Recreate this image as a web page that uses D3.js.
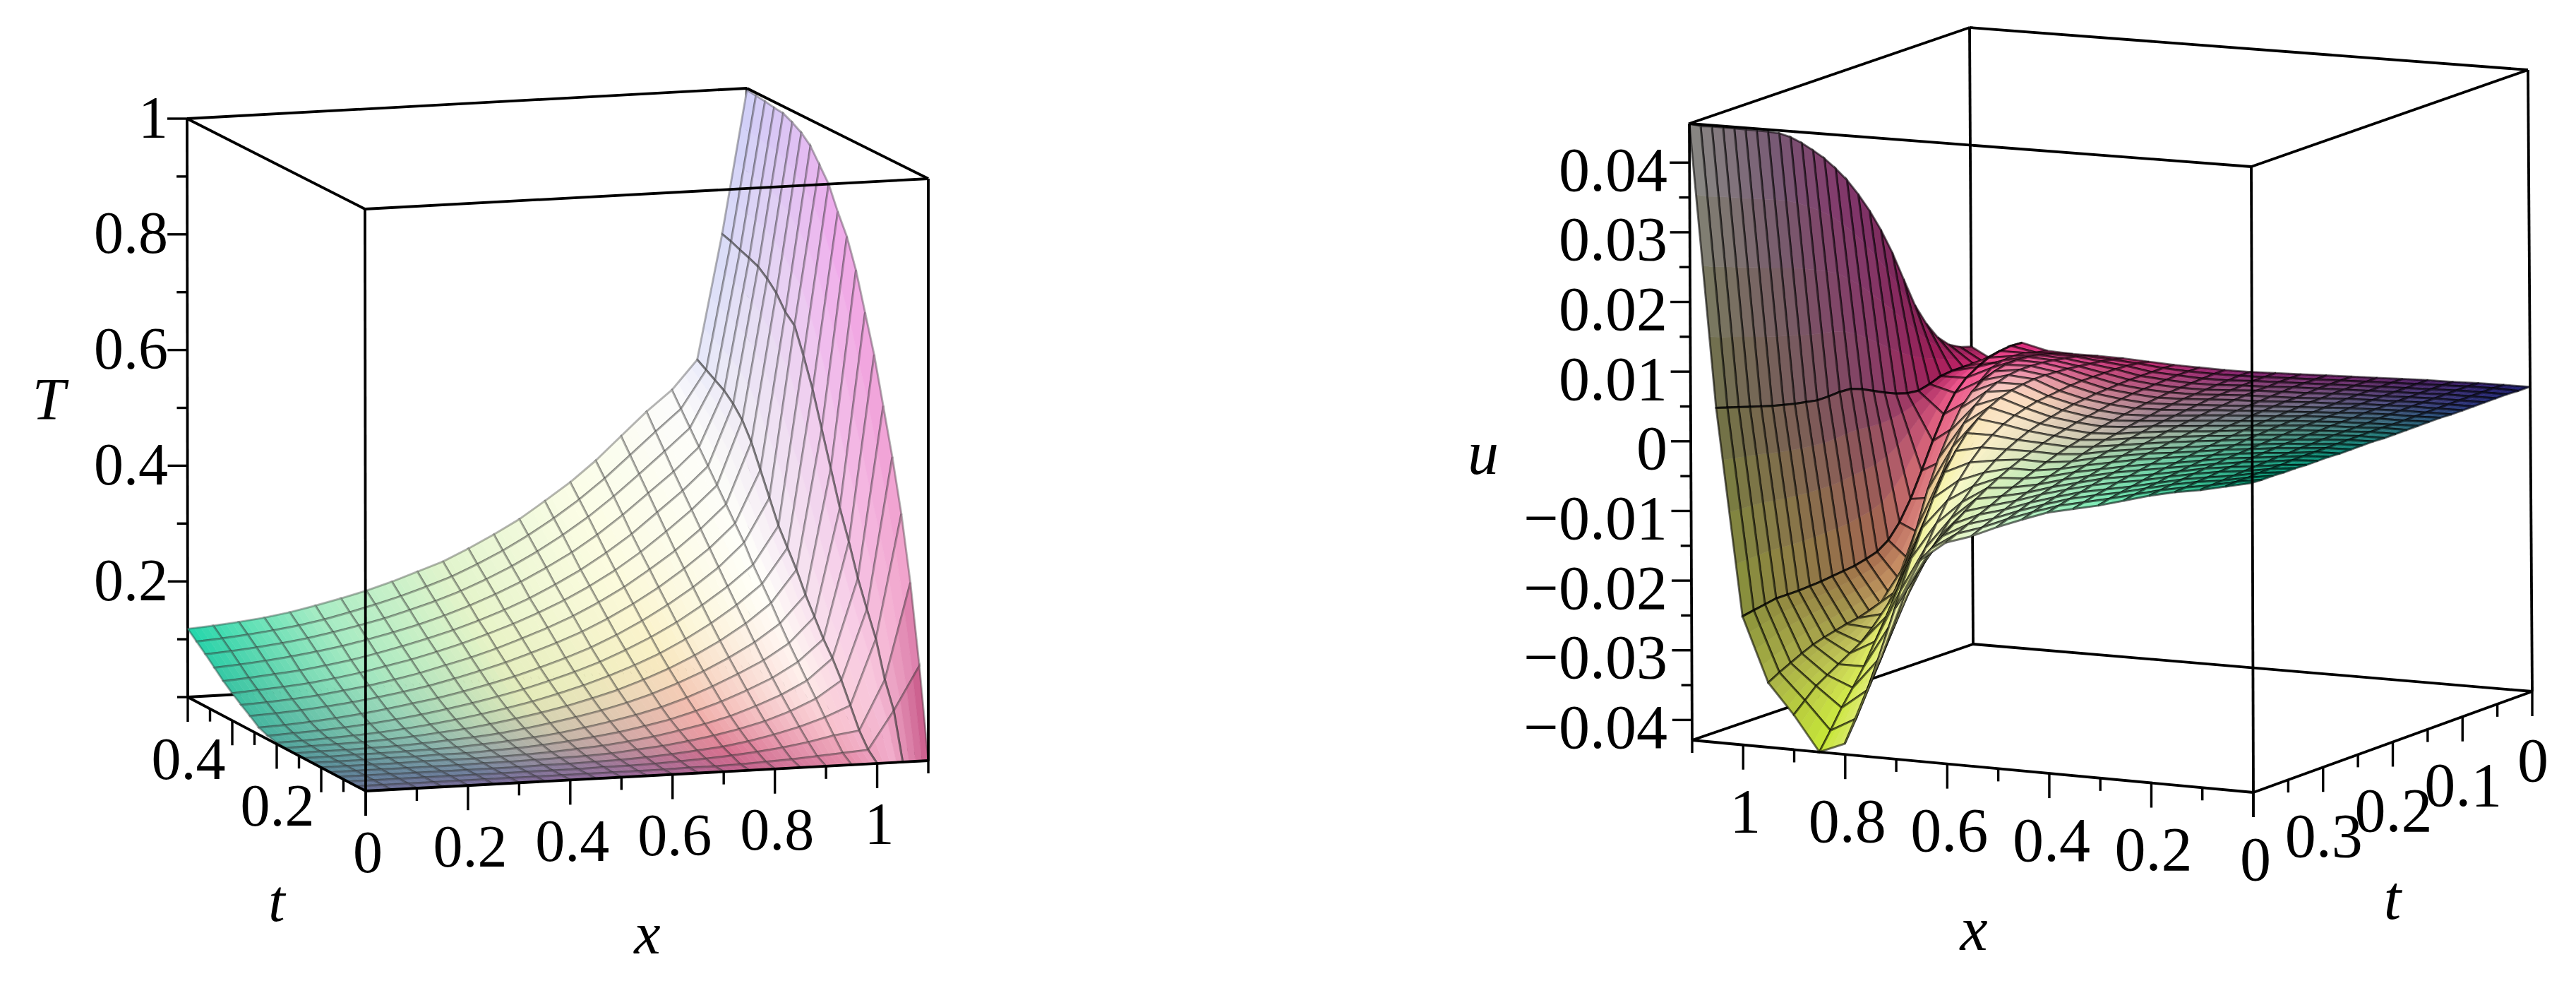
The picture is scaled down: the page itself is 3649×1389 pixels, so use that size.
<!DOCTYPE html>
<html>
<head>
<meta charset="utf-8">
<script src="https://cdnjs.cloudflare.com/ajax/libs/d3/7.8.5/d3.min.js"></script>
<style>
body { margin: 0; background: #fff; }
text { font-family: "Liberation Serif", serif; fill: #000; }
</style>
</head>
<body>
<svg id="chart" width="3649" height="1389"></svg>
<script>
// grid shared by both surfaces
const xGrid = [0,.05,.1,.15,.2,.25,.3,.35,.4,.45,.5,.55,.6,.65,.7,.75,.8,.85,.9,.95,1,1.05,1.1];

// left surface: T, one row per t, one value per xGrid
const tLeft = [0,.02,.04,.06,.08,.1,.12,.14,.16,.18,.2,.22,.24,.26,.28,.3,.32,.34,.36,.38,.4];
const tempRows = [
[0,0,0,0,0,0,0,0,0,0,0,0,0,0,0,0,0,0,0,0,0,0,0],
[0,0,0,0,0,0,0,0,0,0,0,0,0,.001,.001,.002,.004,.006,.009,.012,.015,.08,.155],
[0,0,0,0,0,0,0,0,0,0,.001,.001,.002,.004,.006,.009,.013,.018,.025,.034,.04,.125,.29],
[0,0,0,0,0,0,0,0,.001,.001,.002,.003,.005,.008,.012,.016,.023,.032,.043,.057,.075,.187,.4],
[0,0,0,0,0,0,.001,.001,.002,.003,.004,.006,.01,.014,.02,.027,.036,.047,.062,.081,.11,.23,.49],
[0,0,0,0,.001,.001,.001,.002,.003,.005,.008,.011,.016,.022,.03,.039,.05,.065,.082,.104,.14,.275,.57],
[0,0,0,.001,.001,.002,.002,.004,.006,.009,.013,.018,.024,.032,.041,.053,.067,.084,.103,.128,.165,.33,.65],
[0,0,.001,.001,.002,.003,.004,.007,.01,.014,.019,.026,.034,.043,.054,.068,.085,.104,.125,.152,.195,.38,.715],
[0,.001,.001,.002,.003,.005,.008,.011,.015,.021,.028,.036,.045,.056,.069,.085,.103,.124,.148,.178,.225,.44,.78],
[.001,.002,.003,.004,.006,.009,.013,.017,.023,.03,.038,.047,.058,.07,.085,.102,.122,.145,.172,.205,.26,.5,.83],
[.002,.003,.005,.007,.01,.014,.019,.025,.032,.04,.049,.06,.072,.086,.102,.12,.142,.167,.196,.23,.29,.56,.865],
[.006,.008,.01,.013,.017,.022,.028,.035,.043,.052,.062,.074,.087,.102,.12,.14,.163,.19,.22,.255,.32,.61,.905],
[.012,.014,.017,.021,.026,.032,.039,.046,.055,.065,.076,.089,.103,.119,.138,.16,.185,.213,.245,.285,.36,.655,.93],
[.024,.026,.029,.033,.038,.044,.051,.059,.069,.08,.092,.106,.121,.138,.158,.181,.207,.237,.27,.31,.4,.67,.955],
[.035,.037,.04,.044,.05,.056,.064,.073,.084,.095,.108,.123,.139,.157,.178,.202,.23,.26,.295,.335,.44,.695,.97],
[.047,.05,.053,.057,.063,.07,.079,.088,.099,.111,.125,.14,.157,.176,.198,.223,.252,.285,.32,.36,.47,.712,.98],
[.06,.063,.067,.071,.077,.084,.093,.103,.114,.126,.14,.156,.174,.195,.218,.245,.275,.31,.345,.385,.49,.725,.988],
[.075,.078,.082,.087,.093,.1,.109,.119,.13,.143,.158,.175,.194,.216,.24,.268,.3,.335,.37,.41,.505,.732,.99],
[.09,.093,.097,.102,.108,.116,.125,.135,.147,.16,.175,.193,.213,.236,.262,.291,.324,.36,.397,.435,.515,.738,.993],
[.104,.107,.111,.116,.122,.13,.14,.151,.163,.177,.192,.211,.232,.256,.283,.313,.347,.385,.423,.46,.525,.745,.995],
[.118,.121,.125,.13,.137,.146,.156,.167,.18,.195,.21,.23,.252,.276,.305,.335,.37,.41,.45,.485,.535,.75,.997]
];

// right surface: u, one array per x, from t=0.4 down to t=0
const tRight = [.4,.384,.368,.352,.336,.32,.304,.288,.272,.256,.24,.224,.208,.192,.176,.16,.144,.128,.112,.096,.08,.064,.048,.032,.016,0];
const velColumns = [
[.0006,.0005,.0005,.0004,.0004,.0003,.0003,.0003,.0002,.0002,.0002,.0002,.0001,.0001,.0001,.0001,.0001,.0001,0,0,0,0,0,0,-.0001,-.0001],
[-.0002,-.0001,-.0001,0,0,0,.0001,.0001,.0001,.0001,.0001,.0001,.0001,.0001,.0001,0,0,0,0,0,0,0,0,0,0,-.0001],
[-.001,-.0009,-.0008,-.0007,-.0006,-.0005,-.0004,-.0003,-.0003,-.0002,-.0002,-.0001,-.0001,-.0001,-.0001,-.0001,0,0,0,0,0,0,0,0,0,-.0001],
[-.0016,-.0015,-.0013,-.0012,-.001,-.0009,-.0008,-.0007,-.0006,-.0005,-.0004,-.0004,-.0003,-.0003,-.0002,-.0002,-.0002,-.0001,-.0001,-.0001,-.0001,-.0001,-.0001,-.0001,-.0001,-.0002],
[-.0024,-.0022,-.002,-.0018,-.0016,-.0014,-.0013,-.0011,-.001,-.0009,-.0008,-.0007,-.0006,-.0005,-.0004,-.0004,-.0003,-.0003,-.0002,-.0002,-.0002,-.0002,-.0002,-.0002,-.0002,-.0002],
[-.0034,-.0031,-.0028,-.0026,-.0023,-.0021,-.0019,-.0017,-.0015,-.0013,-.0012,-.001,-.0009,-.0008,-.0007,-.0006,-.0005,-.0005,-.0004,-.0004,-.0003,-.0003,-.0003,-.0003,-.0003,-.0003],
[-.0044,-.004,-.0037,-.0034,-.0031,-.0028,-.0025,-.0023,-.002,-.0018,-.0016,-.0014,-.0013,-.0011,-.001,-.0009,-.0008,-.0007,-.0006,-.0005,-.0005,-.0004,-.0004,-.0004,-.0004,-.0004],
[-.0052,-.0048,-.0044,-.0041,-.0037,-.0034,-.0031,-.0028,-.0025,-.0023,-.0021,-.0018,-.0016,-.0015,-.0013,-.0012,-.001,-.0009,-.0008,-.0007,-.0007,-.0006,-.0005,-.0005,-.0005,-.0005],
[-.006,-.0056,-.0052,-.0048,-.0044,-.004,-.0037,-.0034,-.003,-.0027,-.0025,-.0022,-.002,-.0018,-.0016,-.0014,-.0012,-.0011,-.001,-.0009,-.0008,-.0007,-.0006,-.0006,-.0006,-.0006],
[-.0073,-.0068,-.0063,-.0058,-.0053,-.0049,-.0045,-.0041,-.0037,-.0033,-.003,-.0027,-.0024,-.0021,-.0019,-.0017,-.0015,-.0013,-.0012,-.001,-.0009,-.0008,-.0008,-.0007,-.0007,-.0007],
[-.0087,-.0081,-.0075,-.0069,-.0063,-.0058,-.0053,-.0048,-.0044,-.0039,-.0035,-.0032,-.0028,-.0025,-.0022,-.002,-.0018,-.0016,-.0014,-.0012,-.0011,-.001,-.0009,-.0008,-.0008,-.0008],
[-.0103,-.0096,-.0089,-.0082,-.0075,-.0069,-.0063,-.0057,-.0052,-.0047,-.0042,-.0037,-.0033,-.003,-.0026,-.0023,-.0021,-.0018,-.0016,-.0014,-.0013,-.0012,-.0011,-.001,-.0009,-.0009],
[-.0115,-.0108,-.01,-.0092,-.0085,-.0077,-.007,-.0063,-.0057,-.0051,-.0045,-.004,-.0036,-.0032,-.0028,-.0025,-.0022,-.0019,-.0017,-.0015,-.0013,-.0012,-.0011,-.001,-.0009,-.0009],
[-.0143,-.0132,-.012,-.0108,-.0096,-.0084,-.0074,-.0065,-.0057,-.005,-.0044,-.0038,-.0033,-.0029,-.0025,-.0022,-.0019,-.0016,-.0014,-.0012,-.0011,-.001,-.0009,-.0008,-.0008,-.0008],
[-.0215,-.0195,-.0175,-.0155,-.0135,-.0115,-.0097,-.008,-.0066,-.0054,-.0044,-.0036,-.0029,-.0024,-.002,-.0016,-.0013,-.0011,-.0009,-.0008,-.0007,-.0006,-.0006,-.0006,-.0006,-.0007],
[-.0325,-.0295,-.0262,-.0228,-.0193,-.016,-.013,-.0103,-.008,-.006,-.0044,-.0032,-.0022,-.0015,-.001,-.0006,-.0004,-.0002,0,.0001,.0001,.0001,.0001,0,-.0002,-.0005],
[-.0415,-.0385,-.035,-.0312,-.027,-.0225,-.0183,-.0145,-.0108,-.0077,-.0052,-.0032,-.0017,-.0006,.0002,.0007,.001,.0012,.0012,.0011,.001,.0008,.0006,.0004,.0001,-.0003],
[-.043,-.0405,-.0378,-.0355,-.033,-.03,-.027,-.0238,-.0205,-.017,-.0135,-.0095,-.006,-.0032,-.0012,.0002,.001,.0015,.0017,.0017,.0016,.0014,.0011,.0008,.0003,-.0002],
[-.038,-.0365,-.035,-.034,-.033,-.032,-.031,-.0295,-.028,-.0255,-.022,-.0175,-.0125,-.0085,-.0052,-.0024,-.0006,.0005,.0012,.0016,.0017,.0016,.0013,.0009,.0004,-.0002],
[-.0337,-.0328,-.032,-.0312,-.0305,-.03,-.0296,-.0292,-.0289,-.0284,-.0279,-.0275,-.0262,-.024,-.0205,-.0155,-.0105,-.0062,-.0032,-.001,.0003,.0008,.0009,.0008,.0003,0],
[-.0245,-.0242,-.0239,-.0236,-.0236,-.0236,-.0235,-.0234,-.0232,-.023,-.0228,-.0224,-.0219,-.0208,-.0188,-.016,-.0125,-.0088,-.0055,-.003,-.0014,-.0004,.0004,.0008,.001,.0009],
[.0051,.0046,.0041,.0036,.0031,.0026,.0022,.0018,.0015,.0012,.0012,.0013,.0012,.0006,-.0002,-.001,-.0017,-.0022,-.0024,-.002,-.0014,-.0012,-.0012,-.0014,-.0018,-.0022],
[.0456,.0447,.0441,.0434,.0427,.042,.0413,.0406,.0398,.0387,.0373,.0357,.034,.032,.0298,.0272,.0243,.021,.0172,.0128,.0085,.0053,.0028,.0012,.0003,-.0002]
];

// tick values and labels
const xTicks = [0,.1,.2,.3,.4,.5,.6,.7,.8,.9,1,1.1];
const xLabels = [0,.2,.4,.6,.8,1];
const tTicks = [0,.05,.1,.15,.2,.25,.3,.35,.4];
const tLabelsLeft = [.2,.4];
const tLabelsRight = [0,.1,.2,.3];
const tempTicks = [0,.1,.2,.3,.4,.5,.6,.7,.8,.9,1];
const tempLabels = [.2,.4,.6,.8,1];
const velTicks = [-.04,-.035,-.03,-.025,-.02,-.015,-.01,-.005,0,.005,.01,.015,.02,.025,.03,.035,.04];
const velLabels = [-.04,-.03,-.02,-.01,0,.01,.02,.03,.04];

// surface colours
const colXLeft = [0,.25,.5,.75,.95,1.03,1.1];
const colTLeft = [0,.05,.1,.2,.3,.4];
const colRowsLeft = [
["#6b6f96","#7a6a98","#94689a","#c0608c","#e07fa0","#f0a8c8","#c04a7a"],
["#617f99","#6f7f9c","#9a7a9a","#d8708f","#f8c0cc","#f8c8dc","#f0a0cc"],
["#5a8e9b","#7d9da5","#b8a0a0","#f0a8a8","#fff0ec","#f8d0e8","#f0a0d8"],
["#4fa89c","#8fc8b0","#e4eab8","#faf0c4","#fffffa","#f0d8f0","#f0a8ec"],
["#3cc2a2","#a0e8c0","#e8f4c8","#fcfce0","#fdfdf8","#e8e0f4","#dcc0f4"],
["#22d8ac","#a8ecc4","#e0f4cc","#fbfde8","#fcfcfc","#dde0f8","#d0d0f8"]
];
const colXRight = [0,.3,.55,.75,.85,.95,1,1.05,1.1];
const colTRight = [.4,.28,.2,.16,.08,0];
const colRowsRight = [
["#00a078","#78ebb4","#e6fad2","#e8e890","#c4e632","#aab446","#8c963c","#6e6e46","#8c8c8c"],
["#0a8c78","#64c8a0","#b4e6b4","#fafac8","#f0f082","#a8a050","#967846","#785a5a","#785a78"],
["#1e7878","#78aa96","#bebeaa","#fae6c8","#fadcb4","#d8a070","#a86a50","#824664","#823c6e"],
["#286478","#6e8c8c","#a08c96","#fadcbe","#fad2c8","#e89090","#d07070","#8c3c64","#7d3268"],
["#283278","#6e5a82","#a06482","#c85a82","#e65a96","#f05a96","#fa5a96","#aa1e5a","#781e50"],
["#1e1e6e","#642064","#821e6e","#be286e","#c82878","#d02c7c","#dc2878","#e63282","#8c1e50"]
];

const svg = d3.select("#chart");
svg.append("rect").attr("width", 3649).attr("height", 1389).attr("fill", "#fff");
const defs = svg.append("defs");
defs.append("filter").attr("id", "soft").append("feGaussianBlur").attr("stdDeviation", 0.7);

const line = d3.line();
const mix = (a, b, k) => [a[0] + (b[0] - a[0]) * k, a[1] + (b[1] - a[1]) * k];

// the box is given by its 8 screen corners, a point is placed between them
function boxProjection(c, xDom, tDom, zDom) {
    const sx = d3.scaleLinear().domain(xDom).range([0, 1]);
    const st = d3.scaleLinear().domain(tDom).range([0, 1]);
    const sz = d3.scaleLinear().domain(zDom).range([0, 1]);
    return (x, t, z) => {
        const low = mix(mix(c.b00, c.b10, sx(x)), mix(c.b01, c.b11, sx(x)), st(t));
        const high = mix(mix(c.t00, c.t10, sx(x)), mix(c.t01, c.t11, sx(x)), st(t));
        return mix(low, high, sz(z));
    };
}

function colorLookup(xs, ts, rows) {
    const rowScales = rows.map(r => d3.scaleLinear().domain(xs).range(r).interpolate(d3.interpolateRgb));
    return (x, t) => d3.scaleLinear().domain(ts)
        .range(rowScales.map(s => s(x))).interpolate(d3.interpolateRgb)(t);
}

function drawPanel(p) {
    const g = svg.append("g");
    const P = p.project, S = p.surfaceProject || p.project;
    const z0 = p.zDom[0];
    const edge = (a, b) => g.append("path").attr("d", line([a, b]))
        .attr("stroke", "#000").attr("stroke-width", 3.8).attr("fill", "none");

    // box edges behind the surface
    p.backEdges.forEach(e => edge(P(...e[0]), P(...e[1])));

    // surface cells, far ones first so near ones cover them
    const cells = [];
    for (let i = 0; i < p.xs.length - 1; i++) {
        for (let j = 0; j < p.ts.length - 1; j++) {
            cells.push({ i, j, depth: p.xDepth(p.xs[i]) + p.tDepth(p.ts[j]) });
        }
    }
    cells.sort((a, b) => d3.descending(a.depth, b.depth));

    const surface = g.append("g").attr("filter", "url(#soft)");
    cells.forEach(({ i, j }) => {
        const a = S(p.xs[i], p.ts[j], p.z(i, j));
        const b = S(p.xs[i + 1], p.ts[j], p.z(i + 1, j));
        const c = S(p.xs[i + 1], p.ts[j + 1], p.z(i + 1, j + 1));
        const d = S(p.xs[i], p.ts[j + 1], p.z(i, j + 1));
        const tMid = (p.ts[j] + p.ts[j + 1]) / 2;
        const cut = 4;
        d3.range(cut).forEach(n => {
            const k0 = n / cut, k1 = (n + 1) / cut;
            const fill = p.color(p.xs[i] + (p.xs[i + 1] - p.xs[i]) * (k0 + k1) / 2, tMid);
            surface.append("path")
                .attr("d", line([mix(a, b, k0), mix(a, b, k1), mix(d, c, k1), mix(d, c, k0)]) + "Z")
                .attr("fill", fill).attr("stroke", fill).attr("stroke-width", 0.6);
        });
        surface.append("path").attr("d", line([a, b, c, d]) + "Z")
            .attr("fill", "none").attr("stroke", p.gridColor)
            .attr("stroke-opacity", p.gridOpacity).attr("stroke-width", p.gridWidth);
    });

    // the two lines near the wall look heavier in the picture
    p.heavyX.forEach(hx => {
        const i = p.xs.indexOf(hx);
        surface.append("path")
            .attr("d", line(p.ts.map((t, j) => S(hx, t, p.z(i, j)))))
            .attr("fill", "none").attr("stroke", p.gridColor)
            .attr("stroke-opacity", p.gridOpacity).attr("stroke-width", p.gridWidth);
    });

    // box edges in front of the surface
    p.frontEdges.forEach(e => edge(P(...e[0]), P(...e[1])));

    // ticks
    const tick = (pt, dx, dy) => g.append("path")
        .attr("d", line([pt, [pt[0] + dx, pt[1] + dy]]))
        .attr("stroke", "#000").attr("stroke-width", 3.4).attr("fill", "none");
    const isMajor = (v, list) => list.some(l => Math.abs(l - v) < 1e-9);
    xTicks.forEach(v => tick(P(v, p.xAxisT, z0), 0, Math.round(v * 10) % 2 === 0 ? 35 : 18));
    tTicks.forEach(v => tick(P(p.tAxisX, v, z0), 0, Math.round(v * 100) % 10 === 0 ? 35 : 18));
    p.zTicks.forEach(v => tick(P(p.zAxisX, p.zAxisT, v), isMajor(v, p.zLabels) ? -28 : -15, 0));

    // tick labels
    const label = (s, pt, anchor, size, italic) => g.append("text")
        .attr("x", pt[0]).attr("y", pt[1]).attr("text-anchor", anchor)
        .attr("font-size", size).attr("font-style", italic ? "italic" : "normal")
        .attr("dominant-baseline", "central").text(s);
    xLabels.forEach(v => {
        const q = P(v, p.xAxisT, z0);
        label(d3.format("~g")(v), [q[0] + p.xLabelOff[0], q[1] + p.xLabelOff[1]], "middle", p.fontSize);
    });
    p.tLabels.forEach(v => {
        const q = P(p.tAxisX, v, z0);
        label(d3.format("~g")(v), [q[0] + p.tLabelOff[0], q[1] + p.tLabelOff[1]], "middle", p.fontSize);
    });
    p.zLabels.forEach(v => {
        const q = P(p.zAxisX, p.zAxisT, v);
        label(d3.format("~g")(v).replace("-", "\u2212"), [p.zLabelX, q[1] + p.zLabelOff], "end", p.fontSize);
    });
    p.titles.forEach(d => label(d.s, d.at, "middle", p.fontSize, true));
}

// left plot
drawPanel({
    xs: xGrid, ts: tLeft,
    z: (i, j) => tempRows[j][i],
    zDom: [0, 1],
    project: boxProjection({
        b00: [518, 1120], b10: [1315, 1077], b01: [266, 987], b11: [1062, 943],
        t00: [517, 296], t10: [1315, 253], t01: [265, 168], t11: [1058, 125]
    }, [0, 1.1], [0, .4], [0, 1]),
    color: colorLookup(colXLeft, colTLeft, colRowsLeft),
    xDepth: x => x / 1.1, tDepth: t => t / .4,
    gridColor: "#333", gridOpacity: .36, gridWidth: 3,
    heavyX: [1, 1.05],
    backEdges: [
        [[0, .4, 0], [0, .4, 1]], [[1.1, .4, 0], [1.1, .4, 1]],
        [[0, .4, 0], [1.1, .4, 0]], [[1.1, 0, 0], [1.1, .4, 0]]
    ],
    frontEdges: [
        [[0, 0, 0], [1.1, 0, 0]], [[0, 0, 0], [0, .4, 0]],
        [[0, 0, 0], [0, 0, 1]], [[1.1, 0, 0], [1.1, 0, 1]],
        [[0, 0, 1], [1.1, 0, 1]], [[0, 0, 1], [0, .4, 1]],
        [[1.1, 0, 1], [1.1, .4, 1]], [[0, .4, 1], [1.1, .4, 1]]
    ],
    xAxisT: 0, tAxisX: 0, zAxisX: 0, zAxisT: .4,
    zTicks: tempTicks, zLabels: tempLabels, tLabels: tLabelsLeft,
    zLabelX: 238, zLabelOff: -2, xLabelOff: [3, 86], tLabelOff: [1, 87],
    fontSize: 84,
    titles: [{ s: "T", at: [69, 565] }, { s: "t", at: [392, 1275] }, { s: "x", at: [917, 1321] }]
});

// right plot, the u values were read against slightly different corners
const velDom = [-.0429, .0456];
drawPanel({
    xs: xGrid, ts: tRight,
    z: (i, j) => velColumns[i][j],
    zDom: velDom,
    project: boxProjection({
        b00: [3587, 979], b10: [2795, 912], b01: [3192, 1122], b11: [2397, 1048],
        t00: [3581, 99], t10: [2790, 39], t01: [3189, 236], t11: [2393, 175]
    }, [0, 1.1], [0, .4], velDom),
    surfaceProject: boxProjection({
        b00: [3586, 968], b10: [2795, 912], b01: [3190, 1117], b11: [2397, 1048],
        t00: [3580, 99], t10: [2790, 39], t01: [3187, 236], t11: [2393, 175]
    }, [0, 1.1], [0, .4], velDom),
    color: colorLookup(colXRight, colTRight, colRowsRight),
    xDepth: x => x / 1.1, tDepth: t => (.4 - t) / .4,
    gridColor: "#000", gridOpacity: .55, gridWidth: 3,
    heavyX: [1, 1.05],
    backEdges: [
        [[1.1, 0, velDom[0]], [1.1, 0, velDom[1]]],
        [[0, 0, velDom[0]], [1.1, 0, velDom[0]]], [[1.1, 0, velDom[0]], [1.1, .4, velDom[0]]],
        [[1.1, 0, velDom[1]], [1.1, .4, velDom[1]]], [[1.1, 0, velDom[1]], [0, 0, velDom[1]]]
    ],
    frontEdges: [
        [[0, .4, velDom[0]], [1.1, .4, velDom[0]]], [[0, .4, velDom[0]], [0, 0, velDom[0]]],
        [[0, .4, velDom[0]], [0, .4, velDom[1]]], [[1.1, .4, velDom[0]], [1.1, .4, velDom[1]]],
        [[0, 0, velDom[0]], [0, 0, velDom[1]]],
        [[0, .4, velDom[1]], [1.1, .4, velDom[1]]], [[0, .4, velDom[1]], [0, 0, velDom[1]]]
    ],
    xAxisT: .4, tAxisX: 0, zAxisX: 1.1, zAxisT: .4,
    zTicks: velTicks, zLabels: velLabels, tLabels: tLabelsRight,
    zLabelX: 2362, zLabelOff: 10, xLabelOff: [3, 94], tLabelOff: [1, 97],
    fontSize: 88,
    titles: [{ s: "u", at: [2101, 641] }, { s: "t", at: [3389, 1271] }, { s: "x", at: [2796, 1315] }]
});
</script>
</body>
</html>
